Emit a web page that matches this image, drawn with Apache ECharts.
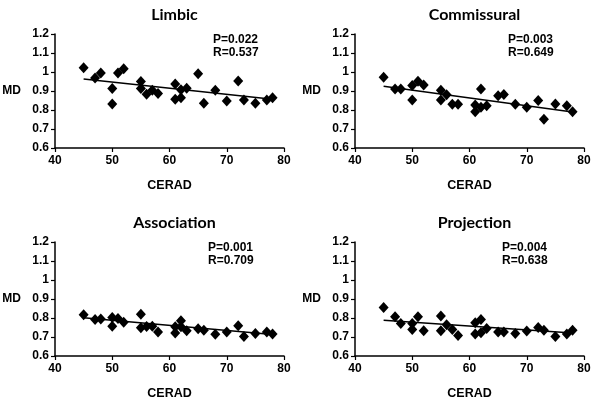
<!DOCTYPE html>
<html><head><meta charset="utf-8">
<script src="https://cdn.jsdelivr.net/npm/echarts@6/dist/echarts.min.js"></script>
<style>html,body{margin:0;padding:0;background:#fff}#c{width:600px;height:405px}</style>
</head><body><div id="c"></div>
<script>
const cerad = [45,47,48,50,50,51,52,55,55,56,57,58,61,61,62,62,63,65,66,68,70,72,73,75,77,78];
const limbicMD = [1.023,0.969,0.995,0.913,0.831,0.995,1.017,0.950,0.913,0.883,0.904,0.887,0.937,0.856,0.906,0.864,0.915,0.991,0.836,0.904,0.847,0.953,0.852,0.836,0.852,0.864];
const commissuralMD = [0.972,0.911,0.911,0.929,0.852,0.951,0.932,0.904,0.852,0.880,0.830,0.830,0.826,0.791,0.911,0.814,0.823,0.875,0.882,0.830,0.814,0.850,0.751,0.831,0.823,0.791];
const associationMD = [0.817,0.792,0.795,0.803,0.757,0.797,0.778,0.820,0.749,0.755,0.757,0.726,0.754,0.721,0.785,0.754,0.733,0.743,0.736,0.714,0.726,0.759,0.703,0.719,0.726,0.716];
const projectionMD = [0.855,0.806,0.771,0.771,0.740,0.806,0.733,0.810,0.733,0.764,0.740,0.708,0.775,0.716,0.792,0.722,0.745,0.726,0.726,0.719,0.731,0.750,0.736,0.703,0.716,0.736];
const trendX = [45, 78];
const limbicTrend = [0.963, 0.856];
const commissuralTrend = [0.925, 0.790];
const associationTrend = [0.801, 0.713];
const projectionTrend = [0.788, 0.721];
const panelTitles = ['Limbic','Commissural','Association','Projection'];
const pValues = ['P=0.022','P=0.003','P=0.001','P=0.004'];
const rValues = ['R=0.537','R=0.649','R=0.709','R=0.638'];

const panelMD = [limbicMD, commissuralMD, associationMD, projectionMD];
const panelTrend = [limbicTrend, commissuralTrend, associationTrend, projectionTrend];

const grids = [
  {left:55, top:34, width:229, height:114},
  {left:355, top:34, width:229, height:114},
  {left:55, top:242, width:229, height:114},
  {left:355, top:242, width:229, height:114}
];
const statPos = [[213,33],[508,33],[208,241],[502,241]];

const tickFont = {fontFamily:'Liberation Sans', fontWeight:'bold', fontSize:12, color:'#000'};
const axisLine = {lineStyle:{color:'#000', width:1.5}};

const option = {
  animation:false,
  backgroundColor:'#fff',
  title: panelTitles.map((t,i)=>({
    text:t, left: grids[i].left + grids[i].width/2, top: grids[i].top - 32, textAlign:'center',
    textStyle:{fontFamily:'Lato', fontWeight:'bold', fontSize:16, color:'#000'}
  })),
  grid: grids,
  xAxis: grids.map((g,i)=>({
    type:'value', gridIndex:i, min:40, max:80, interval:10,
    name:'CERAD', nameLocation:'middle', nameGap:31,
    nameTextStyle:{fontFamily:'Liberation Sans', fontWeight:'bold', fontSize:12.5, color:'#000'},
    axisLine:axisLine, axisTick:{show:true, length:4, lineStyle:{color:'#000', width:1.2}},
    axisLabel:Object.assign({margin:7}, tickFont), splitLine:{show:false}
  })),
  yAxis: grids.map((g,i)=>({
    type:'value', gridIndex:i, min:0.6, max:1.2, interval:0.1,
    name:'MD', nameLocation:'middle', nameRotate:0, nameGap:34,
    nameTextStyle:{fontFamily:'Liberation Sans', fontWeight:'bold', fontSize:12, color:'#000'},
    axisLine:Object.assign({show:true}, axisLine), axisTick:{show:true, length:4, lineStyle:{color:'#000', width:1.2}},
    axisLabel:Object.assign({margin:6, formatter:v=>String(Math.round(v*10)/10)}, tickFont), splitLine:{show:false}
  })),
  graphic: pValues.map((p,i)=>({
    type:'text', left: statPos[i][0], top: statPos[i][1],
    style:{text: p + '\n' + rValues[i], font:'bold 12px "Liberation Sans"', fill:'#000', lineHeight:13}
  })),
  series: [].concat(...panelMD.map((md,i)=>[
    {type:'scatter', xAxisIndex:i, yAxisIndex:i, symbol:'diamond', symbolSize:[10,11],
     itemStyle:{color:'#000', opacity:1}, data: cerad.map((x,j)=>[x, md[j]])},
    {type:'line', xAxisIndex:i, yAxisIndex:i, symbol:'none', lineStyle:{color:'#000', width:1.5},
     data: trendX.map((x,j)=>[x, panelTrend[i][j]]), z:1}
  ]))
};
const chart = echarts.init(document.getElementById('c'), null, {renderer:'canvas'});
chart.setOption(option);
</script></body></html>
